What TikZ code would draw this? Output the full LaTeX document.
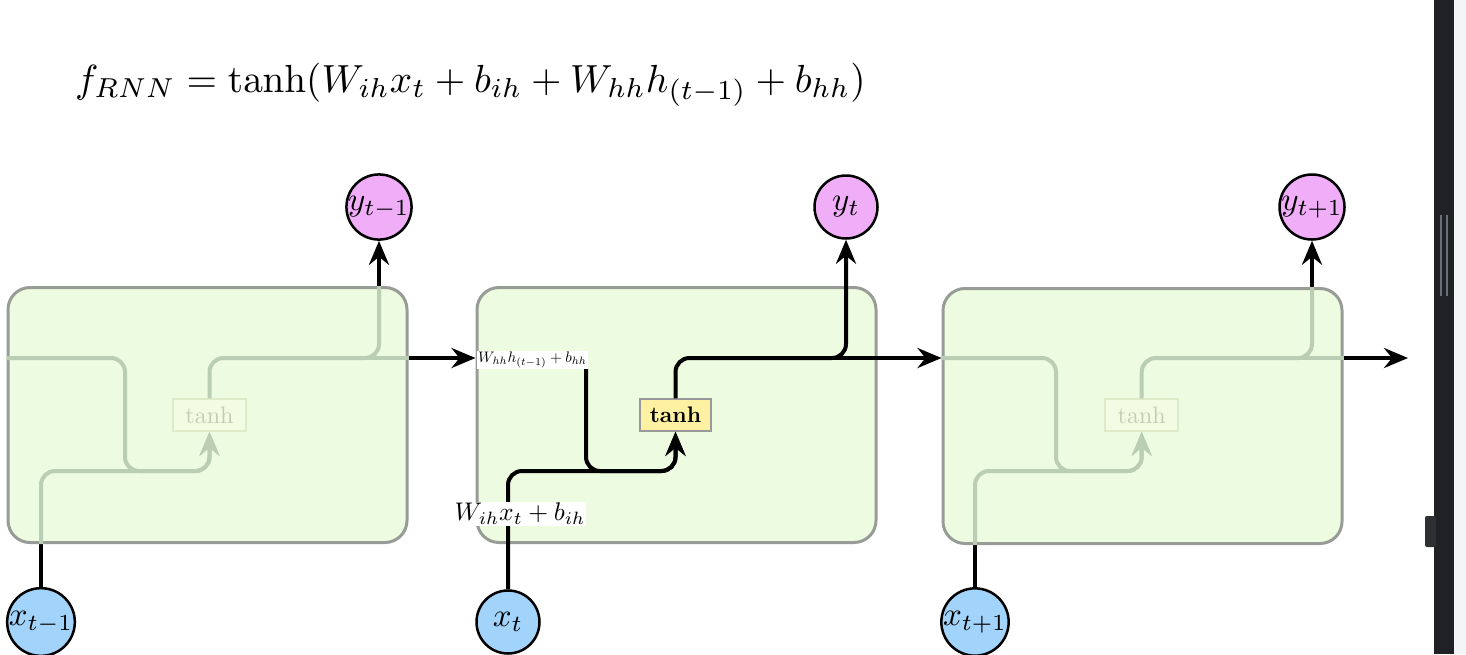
\documentclass[tikz,border=0pt]{standalone}
\usepackage{graphicx}
\usetikzlibrary{arrows.meta}
\definecolor{cellfill}{HTML}{EDFBE0}
\definecolor{cellline}{HTML}{979D96}
\definecolor{fade}{HTML}{B9CEB3}
\definecolor{fadebox}{HTML}{F2FCE2}
\definecolor{fadeboxline}{HTML}{DDEBC9}
\definecolor{fadetext}{HTML}{BFCFB3}
\definecolor{ypurple}{HTML}{F0ADF8}
\definecolor{xblue}{HTML}{A2D3FA}
\definecolor{tanhyellow}{HTML}{FFF1A2}
\definecolor{stripdark}{HTML}{202124}
\definecolor{striplight}{HTML}{F4F5F7}
\definecolor{handle}{HTML}{6B6F76}
\newcommand\mysc[2]{\scalebox{#1}{#2}}
\tikzset{
  cell/.style={draw=cellline, fill=cellfill, line width=3pt, rounded corners=22pt,
    minimum width=399pt, minimum height=255pt, inner sep=0pt},
  ycirc/.style={circle, draw=black, line width=2.5pt, fill=ypurple, minimum size=63pt,
    inner sep=0pt},
  xcirc/.style={ycirc, fill=xblue},
  wire/.style={line width=4pt, rounded corners=14pt},
  fwire/.style={wire, draw=fade},
  tip/.style={-{Stealth[length=24pt,width=20pt,inset=8pt]}},
  ftip/.style={-{Stealth[length=24pt,width=20pt,inset=8pt,fill=fade]}},
  tanhbox/.style={draw=gray!80, line width=1.5pt, fill=tanhyellow, minimum width=71pt,
    minimum height=32pt, inner sep=0pt},
  fadetanh/.style={draw=fadeboxline, line width=1.5pt, fill=fadebox, minimum width=73pt,
    minimum height=32pt, inner sep=0pt, text=fadetext},
  lbl/.style={fill=white, inner sep=1pt}
}
\begin{document}
\begin{tikzpicture}[x=1pt, y=-1pt]
\useasboundingbox (0,0) rectangle (1466,654);
\fill[white] (0,0) rectangle (1466,654);

% formula
\node[anchor=base west, inner sep=0pt] (eq) at (75,92)
  {\mysc{3.92}{$f_{RNN} = \tanh(W_{ih}x_t + b_{ih} + W_{hh}h_{(t-1)} + b_{hh})$}};

% helper rows
\coordinate (hrow) at (0,358);
\coordinate (lrow) at (0,471);
\coordinate (hv1) at (125,0);
\coordinate (hv3) at (1056,0);
\coordinate (outend) at (1408,358);

% cells
\node[cell] (c1) at (207.5,415) {};
\node[cell] (c2) at (676.5,415) {};
\node[cell] (c3) at (1142.5,416) {};

% circles
\node[ycirc] (y1) at (379,207) {\mysc{3.3}{$y_{t-1}$}};
\node[ycirc] (y2) at (846,207) {\mysc{3.3}{$y_t$}};
\node[ycirc] (y3) at (1312,207) {\mysc{3.3}{$y_{t+1}$}};
\node[xcirc] (x1) at (41,622) {\mysc{3.3}{$x_{t-1}$}};
\node[xcirc] (x2) at (508,622) {\mysc{3.3}{$x_t$}};
\node[xcirc] (x3) at (975,622) {\mysc{3.3}{$x_{t+1}$}};

% tanh boxes
\node[fadetanh] (t1) at (209.5,415) {\mysc{2.4}{tanh}};
\node[tanhbox] (t2) at (675.5,415) {\mysc{2.25}{\bfseries tanh}};
\node[fadetanh] (t3) at (1141.7,415) {\mysc{2.4}{tanh}};

% ---- cell 1 (faded) ----
\draw[fwire, ftip] (c1.west |- hrow) -| (hv1 |- lrow) -| (t1.south);
\draw[wire] (x1.north) -- (x1.north |- c1.south);
\draw[fwire, ftip] (x1.north |- c1.south) |- (t1.south |- lrow) -- (t1.south);
\draw[fwire] (t1.north) |- (y1.south |- hrow) -- (y1.south |- c1.north);
\draw[fwire] ([xshift=20pt]t1.north |- hrow) -- (c1.east |- hrow);
\draw[wire, tip] (y1.south |- c1.north) -- (y1.south);

% ---- cell 2 ----
\draw[wire, tip] (c1.east |- hrow) -- (c2.west |- hrow);
\node[lbl, anchor=west] (lbh) at (477,360)
  {\mysc{1.52}{$W_{hh}h_{(t-1)}+b_{hh}$}};
\draw[wire, tip] ([xshift=-2pt]lbh.south east) |- (t2.south |- lrow) -- (t2.south);
\draw[wire, tip] (x2.north) |- (t2.south |- lrow) -- (t2.south);
\draw[wire, tip] (t2.north) |- (y2.south |- hrow) -- (y2.south);
\draw[wire, tip] ([xshift=20pt]t2.north |- hrow) -- (c3.west |- hrow);
\node[lbl] (lbi) at (520,514) {\mysc{2.55}{$W_{ih}x_t+b_{ih}$}};

% ---- cell 3 (faded) ----
\draw[fwire, ftip] (c3.west |- hrow) -| (hv3 |- lrow) -| (t3.south);
\draw[wire] (x3.north) -- (x3.north |- c3.south);
\draw[fwire, ftip] (x3.north |- c3.south) |- (t3.south |- lrow) -- (t3.south);
\draw[fwire] (t3.north) |- (y3.south |- hrow) -- (y3.south |- c3.north);
\draw[fwire] ([xshift=20pt]t3.north |- hrow) -- (c3.east |- hrow);
\draw[wire, tip] (y3.south |- c3.north) -- (y3.south);
\draw[wire, tip] (c3.east |- hrow) -- (outend);

% screen strip at right
\fill[stripdark] (1434,0) rectangle (1454,654);
\fill[striplight] (1454,0) rectangle (1466,654);
\draw[handle, line width=1.5pt] (1441,215) -- (1441,296) (1447,215) -- (1447,296);
\fill[stripdark!85!gray, rounded corners=2pt] (1425,516) rectangle (1436,547);
\end{tikzpicture}
\end{document}
